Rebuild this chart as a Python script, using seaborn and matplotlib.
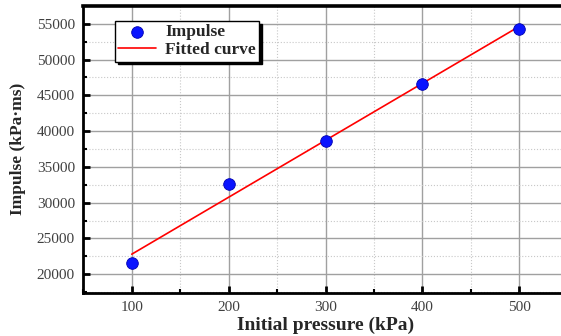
import numpy as np
import pandas as pd
import matplotlib
matplotlib.use("Agg")
import matplotlib.pyplot as plt
import seaborn as sns
from matplotlib.ticker import MultipleLocator

pressure = [100, 200, 300, 400, 500]
impulse = [21500, 32600, 38600, 46600, 54300]
x_ticks = [100, 200, 300, 400, 500]
y_ticks = [20000, 25000, 30000, 35000, 40000, 45000, 50000, 55000]

sns.set_style("white")
plt.rcParams['font.family'] = ['Liberation Serif', 'DejaVu Serif']

fig = plt.figure(figsize=(5.61, 3.36), dpi=100)
ax = fig.add_axes([0.1485, 0.1289, 0.8635, 0.8547])

df = pd.DataFrame({"x": pressure, "y": impulse})
coef = np.polyfit(pressure, impulse, 1)
fit_x = [min(pressure), max(pressure)]
fit_df = pd.DataFrame({"x": fit_x, "y": np.polyval(coef, fit_x)})

ax.set_xlim(50, 550)
ax.set_ylim(17420, 57560)

ax.xaxis.set_major_locator(MultipleLocator(100))
ax.xaxis.set_minor_locator(MultipleLocator(50))
ax.yaxis.set_major_locator(MultipleLocator(5000))
ax.yaxis.set_minor_locator(MultipleLocator(2500))
ax.set_xticks(x_ticks)
ax.set_yticks(y_ticks)

ax.grid(which='major', color='#a0a0a0', linewidth=1.0, linestyle='-')
ax.grid(which='minor', color='#c8c8c8', linewidth=0.8, linestyle=':')
ax.set_axisbelow(True)

sns.lineplot(data=fit_df, x="x", y="y", ax=ax, color='red', linewidth=1.2,
             label='Fitted curve', zorder=3)
sns.scatterplot(data=df, x="x", y="y", ax=ax, color='#0a14ff', edgecolor='#0000b0',
                s=70, linewidth=0.6, label='Impulse', zorder=4)

for side in ['left', 'bottom']:
    ax.spines[side].set_linewidth(2.0)
    ax.spines[side].set_color('black')
ax.spines['top'].set_linewidth(2.6)
ax.spines['top'].set_color('black')
ax.spines['right'].set_visible(False)

ax.tick_params(which='major', direction='in', length=5, width=2, color='black',
               labelsize=11, labelcolor='#404040', top=False, right=False,
               left=True, bottom=True, pad=6)
ax.tick_params(which='minor', direction='in', length=3, width=1.5, color='black',
               left=True, bottom=True)

ax.set_xlabel('Initial pressure (kPa)', fontsize=14, fontweight='bold', labelpad=2)
ax.set_ylabel('Impulse (kPa\u00b7ms)', fontsize=12.5, fontweight='bold', labelpad=8)

handles, labels = ax.get_legend_handles_labels()
order = [labels.index('Impulse'), labels.index('Fitted curve')]
leg = ax.legend([handles[i] for i in order], [labels[i] for i in order],
                loc='upper left', bbox_to_anchor=(0.065, 0.947), borderaxespad=0,
                frameon=True, fancybox=False, shadow={'color': 'black', 'alpha': 1},
                prop={'weight': 'bold', 'size': 12.5, 'family': 'Liberation Serif'},
                handlelength=2.2, borderpad=0.2, labelspacing=0.1, handletextpad=0.5)
leg.get_frame().set_edgecolor('black')
leg.get_frame().set_linewidth(1.0)
leg.get_frame().set_alpha(1)

fig.savefig('out.png', dpi=100)
